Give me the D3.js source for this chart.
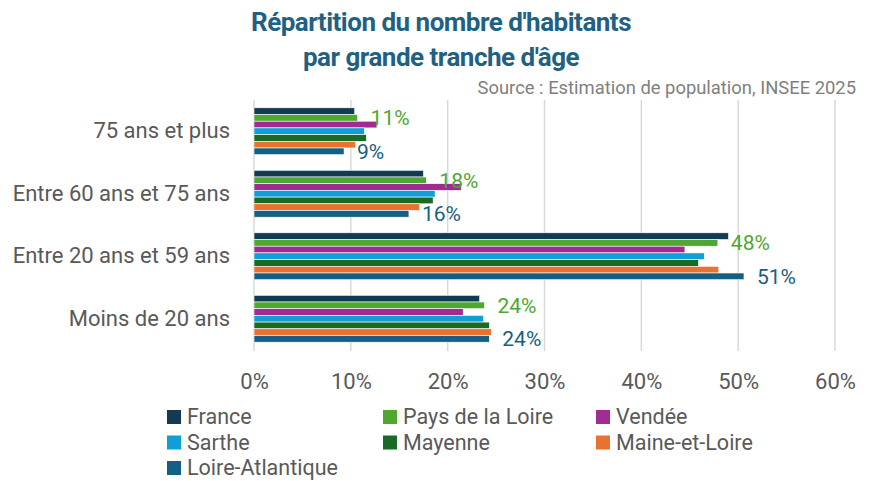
<!DOCTYPE html>
<html>
<head>
<meta charset="utf-8">
<script src="https://cdn.jsdelivr.net/npm/d3@7"></script>
<style>
  body { margin: 0; background: #fff; }
  svg { font-family: Roboto, "Noto Sans", sans-serif; }
</style>
</head>
<body>
<svg id="chart" width="870" height="481"></svg>
<script>

// categories, top to bottom
var categories = ['75 ans et plus', 'Entre 60 ans et 75 ans', 'Entre 20 ans et 59 ans', 'Moins de 20 ans'];

// series, in legend / bar order
var seriesNames = ['France', 'Pays de la Loire', 'Vendée', 'Sarthe', 'Mayenne', 'Maine-et-Loire', 'Loire-Atlantique'];
var seriesColors = ['#123a52', '#4ea72e', '#a02b93', '#0f9ed5', '#196b24', '#e97132', '#156082'];

// share of inhabitants (%) per series, same order as categories
var france          = [10.4, 17.5, 49.0, 23.3];
var paysDeLaLoire   = [10.7, 17.8, 47.9, 23.8];
var vendee          = [12.7, 21.4, 44.5, 21.6];
var sarthe          = [11.4, 18.7, 46.5, 23.7];
var mayenne         = [11.6, 18.5, 45.9, 24.3];
var maineEtLoire    = [10.5, 17.1, 48.0, 24.5];
var loireAtlantique = [9.3, 16.0, 50.6, 24.3];

var seriesValues = [france, paysDeLaLoire, vendee, sarthe, mayenne, maineEtLoire, loireAtlantique];

// only these series carry data labels
var labelledSeries = ['Pays de la Loire', 'Loire-Atlantique'];

var xTicks = [0, 10, 20, 30, 40, 50, 60];

var svg = d3.select('#chart');

var x = d3.scaleLinear().domain([0, 60]).range([254, 835]);

var y = d3.scaleBand()
  .domain(categories)
  .range([100, 350])
  .paddingInner(0.25)
  .paddingOuter(0.125);

var yInner = d3.scaleBand()
  .domain(seriesNames)
  .range([0, y.bandwidth()]);

// title
svg.append('text')
  .attr('x', 441).attr('y', 31)
  .attr('text-anchor', 'middle')
  .attr('font-size', 26)
  .attr('font-weight', 'bold')
  .attr('letter-spacing', -0.5)
  .attr('fill', '#1f6183')
  .text("Répartition du nombre d'habitants");

svg.append('text')
  .attr('x', 441).attr('y', 66)
  .attr('text-anchor', 'middle')
  .attr('font-size', 26)
  .attr('font-weight', 'bold')
  .attr('letter-spacing', -0.5)
  .attr('fill', '#1f6183')
  .text("par grande tranche d'âge");

svg.append('text')
  .attr('x', 856).attr('y', 94)
  .attr('text-anchor', 'end')
  .attr('font-size', 18.4)
  .attr('fill', '#7f7f7f')
  .text('Source : Estimation de population, INSEE 2025');

// grid
svg.append('g').selectAll('line')
  .data(xTicks)
  .enter().append('line')
  .attr('x1', function(d) { return x(d); })
  .attr('x2', function(d) { return x(d); })
  .attr('y1', 100).attr('y2', 351)
  .attr('stroke', '#d9d9d9')
  .attr('stroke-width', 1.5);

// x axis labels
var xAxis = svg.append('g')
  .attr('transform', 'translate(0,360)')
  .call(d3.axisBottom(x).tickValues(xTicks).tickSize(0).tickPadding(0).tickFormat(function(d) { return d + '%'; }));
xAxis.select('.domain').remove();
xAxis.selectAll('text')
  .attr('dy', 0).attr('y', 29)
  .attr('font-family', 'Roboto, sans-serif')
  .attr('font-size', 22)
  .attr('fill', '#595959');

// y axis labels
var yAxis = svg.append('g')
  .attr('transform', 'translate(230,0)')
  .call(d3.axisLeft(y).tickSize(0).tickPadding(0));
yAxis.select('.domain').remove();
yAxis.selectAll('text')
  .attr('font-family', 'Roboto, sans-serif')
  .attr('font-size', 22)
  .attr('fill', '#595959');

// bars
var groups = svg.append('g').selectAll('g')
  .data(seriesNames)
  .enter().append('g')
  .attr('fill', function(d, i) { return seriesColors[i]; });

groups.selectAll('rect')
  .data(function(name, i) {
    return categories.map(function(c, j) { return { series: name, cat: c, value: seriesValues[i][j] }; });
  })
  .enter().append('rect')
  .attr('x', x(0))
  .attr('y', function(d) { return y(d.cat) + yInner(d.series); })
  .attr('width', function(d) { return x(d.value) - x(0); })
  .attr('height', yInner.bandwidth())
  .attr('stroke', '#fff')
  .attr('stroke-width', 0.6);

// data labels
labelledSeries.forEach(function(name) {
  var i = seriesNames.indexOf(name);
  svg.append('g').selectAll('text')
    .data(categories.map(function(c, j) { return { cat: c, value: seriesValues[i][j] }; }))
    .enter().append('text')
    .attr('x', function(d) { return x(d.value) + 13; })
    .attr('y', function(d) { return y(d.cat) + yInner(name) + yInner.bandwidth() / 2; })
    .attr('dy', '0.35em')
    .attr('font-size', 21)
    .attr('fill', name === 'Pays de la Loire' ? '#4ea72e' : '#156082')
    .text(function(d) { return Math.round(d.value) + '%'; });
});

// legend
var legendCols = [167, 383, 596];
var legend = svg.append('g').selectAll('g')
  .data(seriesNames)
  .enter().append('g')
  .attr('transform', function(d, i) {
    return 'translate(' + legendCols[i % 3] + ',' + (417 + Math.floor(i / 3) * 25.5) + ')';
  });

legend.append('rect')
  .attr('x', 0).attr('y', -7)
  .attr('width', 14).attr('height', 14)
  .attr('fill', function(d, i) { return seriesColors[i]; });

legend.append('text')
  .attr('x', 20).attr('y', 0)
  .attr('dy', '0.33em')
  .attr('font-size', 21.5)
  .attr('fill', '#595959')
  .text(function(d) { return d; });

</script>
</body>
</html>
